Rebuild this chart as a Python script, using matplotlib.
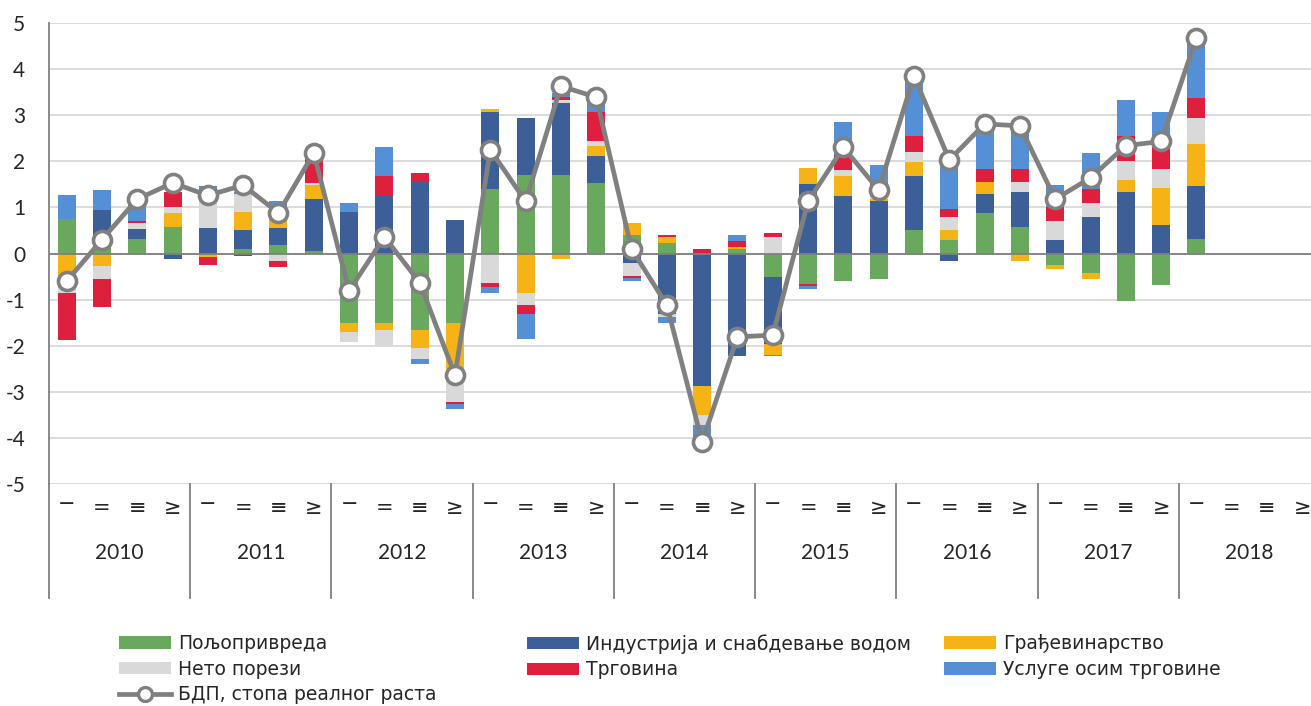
import matplotlib
matplotlib.use("Agg")
import matplotlib.pyplot as plt
from matplotlib.lines import Line2D
from matplotlib.patches import Patch
import numpy as np

plt.rcParams['font.family'] = ['Lato', 'DejaVu Sans']
plt.rcParams['axes.unicode_minus'] = False

years = ['2010', '2011', '2012', '2013', '2014', '2015', '2016', '2017', '2018']
quarters = ['\u2212', '=', '\u2261', '\u2265']

nan = np.nan
# 2010 Q1 .. 2018 Q4 (only 2018 Q1 available)
agri = [0.74, 0.35, 0.32, 0.57, 0.0, 0.10, 0.19, 0.05,
        -1.50, -1.50, -1.66, -1.50, 1.40, 1.71, 1.71, 1.54,
        0.40, 0.22, 0.0, 0.09, -0.51, -0.67, -0.60, -0.55,
        0.50, 0.30, 0.88, 0.58, -0.24, -0.42, -1.03, -0.68,
        0.32, nan, nan, nan]
industry = [0.0, 0.60, 0.21, -0.11, 0.56, 0.42, 0.37, 1.13,
            0.91, 1.26, 1.56, 0.73, 1.68, 1.24, 1.55, 0.58,
            -0.20, -1.32, -2.88, -2.23, -1.46, 1.51, 1.25, 1.13,
            1.19, -0.16, 0.42, 0.76, 0.30, 0.79, 1.34, 0.61,
            1.15, nan, nan, nan]
construction = [-0.60, -0.28, 0.0, 0.30, -0.07, 0.39, 0.30, 0.30,
                -0.20, -0.17, -0.39, -1.00, 0.05, -0.85, -0.11, 0.22,
                0.27, 0.14, -0.63, 0.06, -0.23, 0.35, 0.43, 0.05,
                0.30, 0.22, 0.26, -0.17, -0.09, -0.14, 0.26, 0.82,
                0.91, nan, nan, nan]
taxes = [-0.25, -0.27, 0.14, 0.14, 0.79, 0.38, -0.17, 0.06,
         -0.23, -0.34, -0.23, -0.72, -0.63, -0.26, 0.06, 0.09,
         -0.29, -0.05, -0.20, 0.0, 0.36, 0.0, 0.13, 0.30,
         0.22, 0.27, 0.0, 0.22, 0.41, 0.31, 0.40, 0.40,
         0.57, nan, nan, nan]
trade = [-1.03, -0.60, 0.04, 0.32, -0.18, -0.05, -0.12, 0.53,
         0.0, 0.43, 0.18, -0.04, -0.09, -0.21, 0.07, 0.65,
         -0.05, 0.05, 0.10, 0.12, 0.09, -0.04, 0.32, 0.06,
         0.34, 0.17, 0.27, 0.27, 0.30, 0.30, 0.55, 0.63,
         0.43, nan, nan, nan]
services = [0.52, 0.43, 0.39, 0.0, 0.12, 0.05, 0.28, 0.05,
            0.18, 0.61, -0.12, -0.12, -0.13, -0.53, 0.09, 0.25,
            -0.05, -0.14, -0.48, 0.14, -0.03, -0.07, 0.72, 0.37,
            1.25, 0.99, 0.92, 1.03, 0.47, 0.78, 0.79, 0.62,
            1.25, nan, nan, nan]
gdp = [-0.60, 0.30, 1.18, 1.53, 1.26, 1.48, 0.88, 2.18,
       -0.81, 0.36, -0.63, -2.64, 2.25, 1.13, 3.63, 3.39,
       0.10, -1.12, -4.09, -1.81, -1.77, 1.13, 2.30, 1.38,
       3.85, 2.03, 2.81, 2.77, 1.18, 1.64, 2.34, 2.43,
       4.68, nan, nan, nan]

series = [
    ('Пољопривреда', agri, '#68A95E'),
    ('Индустрија и снабдевање водом', industry, '#3D5F98'),
    ('Грађевинарство', construction, '#F5B315'),
    ('Нето порези', taxes, '#D9D9D9'),
    ('Трговина', trade, '#DE1F3D'),
    ('Услуге осим трговине', services, '#558FD6'),
]

fig = plt.figure(figsize=(13.11, 7.06), dpi=100)
ax = fig.add_axes([49 / 1311, 1 - 484 / 706, 1271 / 1311, 461 / 706])

x = np.arange(len(gdp))
pos_bottom = np.zeros(len(x))
neg_bottom = np.zeros(len(x))
for name, vals, col in series:
    v = np.nan_to_num(np.array(vals, dtype=float))
    pos = np.where(v > 0, v, 0)
    neg = np.where(v < 0, v, 0)
    ax.bar(x, pos, 0.51, bottom=pos_bottom, color=col, linewidth=0, zorder=2)
    ax.bar(x, neg, 0.51, bottom=neg_bottom, color=col, linewidth=0, zorder=2)
    pos_bottom += pos
    neg_bottom += neg

ax.plot(x, gdp, color='#808080', lw=3.4, marker='o', markersize=13,
        markerfacecolor='white', markeredgecolor='#808080', markeredgewidth=2.6, zorder=4)

ax.set_xlim(-0.5, len(x) - 0.5)
ax.set_ylim(-5, 5)
ax.set_yticks(range(-5, 6))
ax.yaxis.grid(True, color='#D9D9D9', lw=1.3, zorder=0)
ax.set_axisbelow(True)
ax.axhline(0, color='#808080', lw=1.3, zorder=3)
for s in ['top', 'right', 'bottom']:
    ax.spines[s].set_visible(False)
ax.spines['left'].set_color('#808080')
ax.spines['left'].set_linewidth(1.3)
ax.spines['left'].set_bounds(-5, 5)
ax.tick_params(axis='y', length=0, labelsize=15, colors='#262626', pad=17)
ax.set_xticks([])

# category axis: quarters and years
trans = ax.get_xaxis_transform()
for i in range(len(x)):
    q = i % 4
    yq = -0.052 + (4 / 461 if q == 0 else 0)
    ax.text(i, yq, quarters[q], transform=trans, ha='center', va='center',
            fontsize=15, color='#262626', family=['DejaVu Sans'])
for k, yr in enumerate(years):
    ax.text(4 * k + 1.5, -0.149, yr, transform=trans, ha='center', va='center',
            fontsize=15, color='#262626')
for k in range(len(years) + 1):
    ax.plot([4 * k - 0.5, 4 * k - 0.5], [0, -0.247], transform=trans, color='#808080',
            lw=1.3, clip_on=False)

# legend in three manual columns
handles = [Patch(facecolor=c, label=n) for n, v, c in series]
gdp_handle = Line2D([], [], color='#808080', lw=3.4, marker='o', markersize=10,
                    markerfacecolor='white', markeredgecolor='#808080', markeredgewidth=2.4,
                    label='БДП, стопа реалног раста')
cols = [([handles[0], handles[3], gdp_handle], 119),
        ([handles[1], handles[4]], 527),
        ([handles[2], handles[5]], 944)]
for hs, px in cols:
    fig.legend(handles=hs, loc='upper left', bbox_to_anchor=(px / 1311, 1 - 634 / 706),
               frameon=False, prop={'family': 'DejaVu Sans', 'size': 13.5},
               handlelength=2.75, handleheight=0.65,
               handletextpad=0.42, labelspacing=0.36, borderpad=0, borderaxespad=0,
               labelcolor='#262626')

fig.savefig('out.png', dpi=100)
